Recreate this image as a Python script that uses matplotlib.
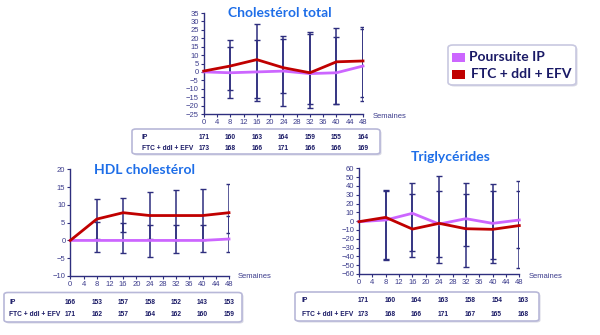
import numpy as np
import matplotlib
matplotlib.use("Agg")
from matplotlib import pyplot as plt
from matplotlib.patches import FancyBboxPatch, Rectangle
from matplotlib.transforms import blended_transform_factory

# weeks of follow-up
weeks = [0, 8, 16, 24, 32, 40, 48]
xticks = list(range(0, 49, 4))

# cholesterol total (change from baseline)
chol_ip = [0, -0.5, 0, 0.5, -1, -0.5, 3.5]
chol_ftc = [0.5, 3.5, 7.3, 2.5, -0.5, 6, 6.5]
chol_ip_lo = [-15.2, -17, -20.5, -18.9, -18.9, -17]
chol_ip_hi = [15, 18.9, 19.5, 22.8, 20.8, 25.7]
chol_ftc_lo = [-11, -15.2, -12.6, -21.5, -18.9, -15]
chol_ftc_hi = [18.9, 28.7, 21.4, 23.8, 26.3, 26.7]
chol_n_ip = [171, 160, 163, 164, 159, 155, 164]
chol_n_ftc = [173, 168, 166, 171, 166, 166, 169]

# HDL cholesterol
hdl_ip = [0, 0, 0, 0, 0, 0, 0.4]
hdl_ftc = [0, 6, 7.8, 7, 7, 7, 7.8]
hdl_ip_lo = [-3.3, -3.4, -4.6, -3.6, -3.3, -3.3]
hdl_ip_hi = [5.1, 5, 4.3, 4.3, 4.3, 6.9]
hdl_ftc_lo = [0.4, 2.3, 0.5, 0.2, 0.2, 2]
hdl_ftc_hi = [11.6, 12, 13.5, 14.2, 14.4, 15.8]
hdl_n_ip = [166, 153, 157, 158, 152, 143, 153]
hdl_n_ftc = [171, 162, 157, 164, 162, 160, 159]

# triglycerides
tg_ip = [-0.6, 1.3, 8.9, -3.3, 2.8, -2.5, 1.3]
tg_ftc = [-0.6, 4.3, -9, -2.5, -8.6, -9.3, -5]
tg_ip_lo = [-43, -33.6, -48, -27.9, -43.4, -30.2]
tg_ip_hi = [34.6, 43.7, 34.6, 43, 42.2, 46]
tg_ftc_lo = [-43.8, -41, -40.4, -52.5, -48, -52.9]
tg_ftc_hi = [35.4, 30.8, 51.7, 30.5, 34.2, 34.6]
tg_n_ip = [171, 160, 164, 163, 158, 154, 163]
tg_n_ftc = [173, 168, 166, 171, 167, 165, 168]

row_labels = ["IP", "FTC + ddI + EFV"]
legend_labels = ["Poursuite IP", "FTC + ddI + EFV"]

VIOLET = "#cc66ff"
RED = "#c00000"
NAVY = "#2e2e7e"
TXT = "#1a1a66"
TITLE = "#1e6ee8"

W, H = 600, 335
fig = plt.figure(figsize=(6, 3.35), dpi=100)
fig.patch.set_facecolor("white")


def px(x0, y0, x1, y1):
    # pixel box (top-left origin) -> figure fraction rect
    return [x0 / W, 1 - y1 / H, (x1 - x0) / W, (y1 - y0) / H]


def panel(rect, ylim, ystep, ip, ftc, ip_lo, ip_hi, ftc_lo, ftc_hi, title, title_xy, sem_xy):
    ax = fig.add_axes(rect)
    ax.set_xlim(0, 48)
    ax.set_ylim(*ylim)
    ax.set_xticks(xticks)
    ax.set_yticks(np.arange(ylim[0], ylim[1] + 0.1, ystep))
    ax.tick_params(labelsize=5.5, colors=NAVY, length=2, width=0.8, pad=1.5)
    for t in ax.get_xticklabels() + ax.get_yticklabels():
        t.set_color("#3c3c8c")
        t.set_family("Liberation Sans")
    for s in ["top", "right"]:
        ax.spines[s].set_visible(False)
    for s in ["left", "bottom"]:
        ax.spines[s].set_color(NAVY)
        ax.spines[s].set_linewidth(1)
    ax.patch.set_alpha(0)
    w = np.array(weeks[1:])
    for vals, lo, hi in [(ip, ip_lo, ip_hi), (ftc, ftc_lo, ftc_hi)]:
        v = np.array(vals[1:])
        ax.errorbar(w, v, yerr=[v - np.array(lo), np.array(hi) - v], fmt="none",
                    ecolor=NAVY, elinewidth=1.1, capsize=2.2, capthick=1.0, zorder=2)
    ax.plot(weeks, ip, color=VIOLET, lw=2, zorder=3, clip_on=False)
    ax.plot(weeks, ftc, color=RED, lw=2, zorder=4, clip_on=False)
    fig.text(title_xy[0] / W, 1 - title_xy[1] / H, title, ha="center", va="center",
             fontsize=10, fontweight="bold", color=TITLE, family="Lato")
    fig.text(sem_xy[0] / W, 1 - sem_xy[1] / H, "Semaines", ha="left", va="center",
             fontsize=5.5, color="#3c3c8c", family="Liberation Sans")
    return ax


def box(x0, y0, x1, y1, r=4, ec="#b8b8d8"):
    sh = FancyBboxPatch((x0 / W + 1.5 / W, 1 - y1 / H - 1.5 / H), (x1 - x0) / W, (y1 - y0) / H,
                        boxstyle="round,pad=0,rounding_size=%f" % (r / W),
                        transform=fig.transFigure, fc="#d8d8e4", ec="none", zorder=-2)
    fig.patches.append(sh)
    b = FancyBboxPatch((x0 / W, 1 - y1 / H), (x1 - x0) / W, (y1 - y0) / H,
                       boxstyle="round,pad=0,rounding_size=%f" % (r / W),
                       transform=fig.transFigure, fc="white", ec=ec, lw=1.2, zorder=-1)
    fig.patches.append(b)


def table(ax, bx, label_x, row_y, n_ip, n_ftc, dx=0):
    box(*bx)
    tr = blended_transform_factory(ax.transData, fig.transFigure)
    for lab, yy, vals in [(row_labels[0], row_y[0], n_ip), (row_labels[1], row_y[1], n_ftc)]:
        fig.text(label_x / W, 1 - yy / H, lab, ha="left", va="center", fontsize=4.8,
                 fontweight="bold", color=TXT, family="Liberation Sans")
        for wk, v in zip(weeks, vals):
            ax.text(wk + dx, 1 - yy / H, str(v), transform=tr, ha="center", va="center",
                    fontsize=4.8, fontweight="bold", color=TXT, family="Liberation Sans",
                    clip_on=False)


ax1 = panel(px(203.7, 13, 363, 114), (-25, 35), 5, chol_ip, chol_ftc,
            chol_ip_lo, chol_ip_hi, chol_ftc_lo, chol_ftc_hi,
            "Cholestérol total", (280, 13), (373, 117))
table(ax1, (132, 129, 380, 154), 141.5, (137.7, 148.3), chol_n_ip, chol_n_ftc)

ax2 = panel(px(70.3, 169.3, 229, 276), (-10, 20), 5, hdl_ip, hdl_ftc,
            hdl_ip_lo, hdl_ip_hi, hdl_ftc_lo, hdl_ftc_hi,
            "HDL cholestérol", (144, 170), (238, 276))
table(ax2, (4, 292.5, 242, 322), 9, (303, 315), hdl_n_ip, hdl_n_ftc)

ax3 = panel(px(359, 168.3, 519.3, 274), (-60, 60), 10, tg_ip, tg_ftc,
            tg_ip_lo, tg_ip_hi, tg_ftc_lo, tg_ftc_hi,
            "Triglycérides", (451, 157), (529, 276))
table(ax3, (295, 292, 539, 321), 302, (301, 314), tg_n_ip, tg_n_ftc, dx=1.2)

# legend box
box(448, 45, 576, 85, r=5, ec="#c8c8e0")
for i, (lab, col) in enumerate(zip(legend_labels, [VIOLET, RED])):
    yc = 57 + i * 17
    fig.patches.append(Rectangle((452 / W, 1 - (yc + 4.5) / H), 13 / W, 9 / H,
                                 transform=fig.transFigure, fc=col, ec="none", zorder=2))
    fig.text((469 + 2 * i) / W, 1 - yc / H, lab, ha="left", va="center", fontsize=10,
             fontweight="bold", color=TXT, family="Lato")

fig.savefig("out.png", dpi=100)
